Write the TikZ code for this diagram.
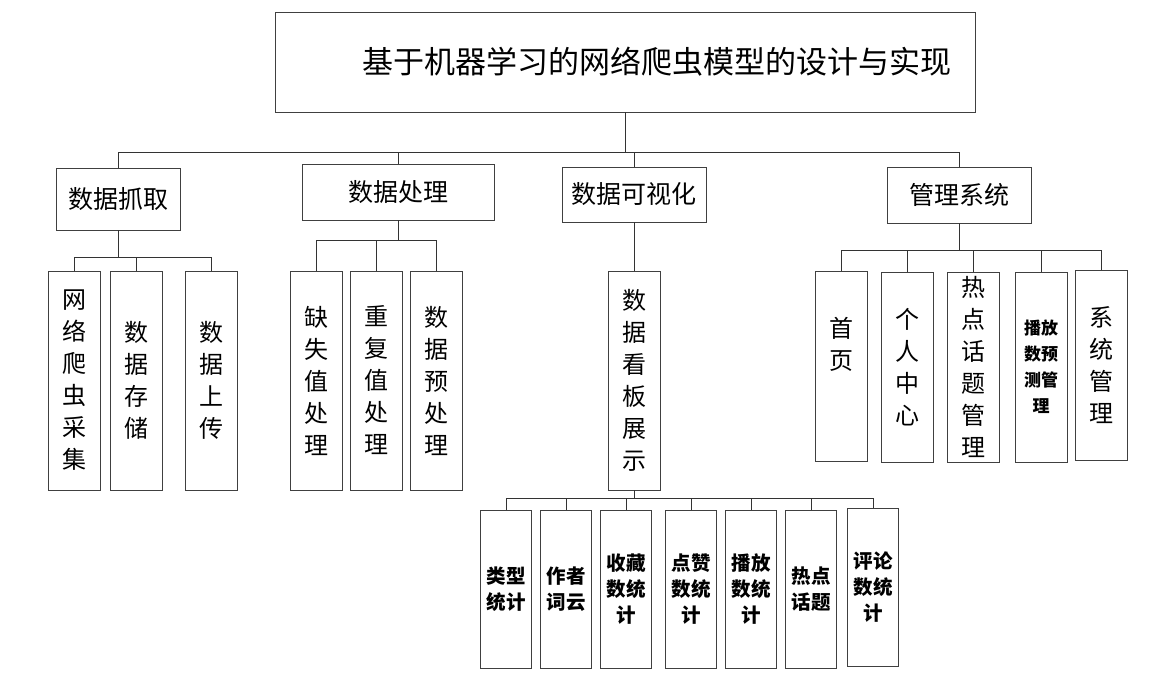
\documentclass[tikz,border=0pt]{standalone}
\usepackage{fontspec}
\setmainfont{Noto Sans CJK SC}
\usepackage{tikz}
\usetikzlibrary{positioning}

\tikzset{
	box/.style={draw=black!75, line width=0.8pt, inner sep=0pt, align=center},
	head/.style={box, minimum height=56pt, font=\fontsize{25}{30}\selectfont},
	col/.style={box, minimum width=52pt, font=\fontsize{24}{32}\selectfont},
	leaf/.style={box, minimum width=51pt, minimum height=158pt, font=\bfseries\fontsize{19.5}{26}\selectfont},
	link/.style={draw=black!80, line width=0.8pt}
}

\begin{document}
\begin{tikzpicture}[x=1pt, y=-1pt]
	\useasboundingbox (0,0) rectangle (1172,677);
	% top
	\node[box, minimum width=700pt, minimum height=100pt, font=\fontsize{31}{36}\selectfont] (T) at (625,62) {\hspace*{64pt}基于机器学习的网络爬虫模型的设计与实现};
	\node[head, minimum width=124pt, minimum height=62pt] (A) at (118,199) {数据抓取};
	\node[head, minimum width=192pt] (B) at (398,192) {数据处理};
	\node[head, minimum width=144pt, minimum height=55pt] (C) at (634,194.5) {数据可视化};
	\node[head, minimum width=144pt] (D) at (959,195) {管理系统};
	\path (T.south) ++(0,40) coordinate (tb);
	\foreach \n in {A,B,C,D}
		\draw[link] (T.south) -- (tb) -| (\n.north);

	% data grabbing
	\node[col, minimum height=219pt] (A1) at (74,380.5) {网\\络\\爬\\虫\\采\\集};
	\node[col, minimum height=219pt] (A2) at (136,380.5) {数\\据\\存\\储};
	\node[col, minimum height=219pt] (A3) at (211,380.5) {数\\据\\上\\传};
	\path (A.south) ++(0,27) coordinate (ab);
	\foreach \n in {A1,A2,A3}
		\draw[link] (A.south) -- (ab) -| (\n.north);

	% data processing
	\node[col, minimum height=219pt] (B1) at (316,380.5) {缺\\失\\值\\处\\理};
	\node[col, minimum height=219pt] (B2) at (376,380.5) {重\\复\\值\\处\\理};
	\node[col, minimum height=219pt] (B3) at (436,380.5) {数\\据\\预\\处\\理};
	\path (B.south) ++(0,20) coordinate (bb);
	\foreach \n in {B1,B2,B3}
		\draw[link] (B.south) -- (bb) -| (\n.north);

	% visualisation
	\node[col, minimum height=219pt] (V) at (634,380.5) {数\\据\\看\\板\\展\\示};
	\draw[link] (C.south) -- (V.north);
	\node[leaf] (V1) at (506,589) {类型\\统计};
	\node[leaf] (V2) at (566,589) {作者\\词云};
	\node[leaf] (V3) at (626,589) {收藏\\数统\\计};
	\node[leaf] (V4) at (691,589) {点赞\\数统\\计};
	\node[leaf] (V5) at (751,589) {播放\\数统\\计};
	\node[leaf] (V6) at (811,589) {热点\\话题};
	\node[leaf] (V7) at (873,587.5) {评论\\数统\\计};
	\path (V.south) ++(0,8) coordinate (vb);
	\foreach \n in {V1,V2,V3,V4,V5,V6,V7}
		\draw[link] (V.south) -- (vb) -| (\n.north);

	% management system
	\node[col, minimum height=190pt] (D1) at (841,366) {首\\页\\[14pt]};
	\node[col, minimum height=190pt] (D2) at (907,367) {个\\人\\中\\心};
	\node[col, minimum height=190pt] (D3) at (973,367) {热\\点\\话\\题\\管\\理};
	\node[col, minimum height=190pt, font=\bfseries\fontsize{17}{26}\selectfont] (D4) at (1041,367) {播放\\数预\\测管\\理};
	\node[col, minimum height=190pt] (D5) at (1101,365) {系\\统\\管\\理};
	\path (D.south) ++(0,27) coordinate (db);
	\foreach \n in {D1,D2,D3,D4,D5}
		\draw[link] (D.south) -- (db) -| (\n.north);
\end{tikzpicture}
\end{document}
